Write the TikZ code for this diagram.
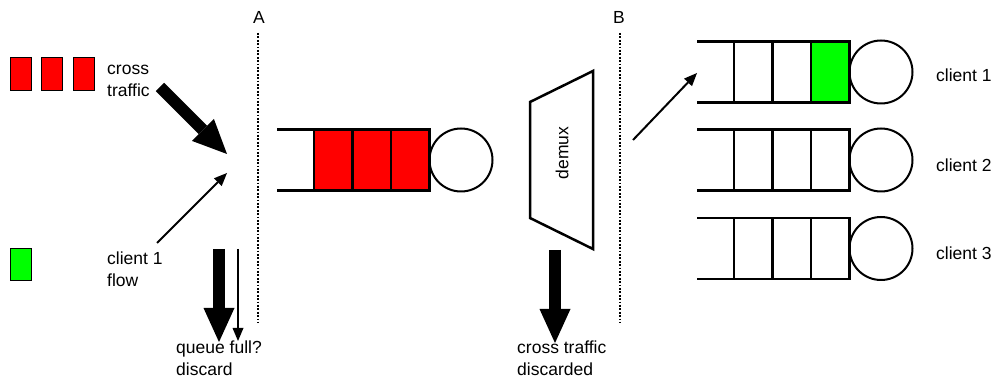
\documentclass[tikz,border=0pt]{standalone}
\usepackage{fontspec}
\setmainfont{Liberation Sans}
\usetikzlibrary{arrows.meta}

\tikzset{
  qline/.style={line width=2.5pt},
  server/.style={line width=2pt},
  packet/.style={draw=black,line width=1pt},
  boundary/.style={line width=1.3pt,dash pattern=on 1.8pt off 1.6pt},
  bigarrow/.style={line width=12pt,-{Triangle[length=34pt,width=31pt,line width=0pt]}},
  smallarrow/.style={line width=2pt,-{Triangle[length=13pt,width=11pt,line width=0pt]}},
  lbl/.style={inner sep=0pt,anchor=base west,align=left,font=\fontsize{17.5}{22}\selectfont},
}

% queue: left x, centre y, fills of the three cells
\newcommand{\netqueue}[5]{%
  \fill[#3] (#1+37,#2-30.5) rectangle (#1+75.5,#2+30.5);
  \fill[#4] (#1+75.5,#2-30.5) rectangle (#1+114,#2+30.5);
  \fill[#5] (#1+114,#2-30.5) rectangle (#1+152.5,#2+30.5);
  \draw[qline] (#1,#2-30.5) -- (#1+152.5,#2-30.5) -- (#1+152.5,#2+30.5) -- (#1,#2+30.5);
  \foreach \d in {37,75.5,114} \draw[qline] (#1+\d,#2-30.5) -- (#1+\d,#2+30.5);
  \draw[server] (#1+184,#2) circle (31.5);
}

\begin{document}
\begin{tikzpicture}[x=1pt,y=-1pt]
\useasboundingbox (0,0) rectangle (994,387);

% incoming packets
\foreach \x in {10,41.5,73} \filldraw[packet,fill=red] (\x,58) rectangle ++(21,33);
\filldraw[packet,fill=green] (10,249) rectangle ++(21,32);
\node[lbl] (cross) at (107,97) {cross\\traffic};
\node[lbl] (flow) at (107,287) {client 1\\flow};

% the two points A and B
\node[lbl,anchor=base] (labA) at (259,24) {A};
\node[lbl,anchor=base] (labB) at (619,24) {B};
\draw[boundary] (258,33) -- (258,323);
\draw[boundary] (620,33) -- (620,323);

% shared bottleneck queue
\netqueue{277}{160}{red}{red}{red}

% arrival at A
\coordinate (ct from) at (160,87);
\coordinate (ct to) at (227,154);
\coordinate (fl from) at (157,243);
\coordinate (fl to) at (227,173);
\draw[bigarrow] (ct from) -- (ct to);
\draw[smallarrow] (fl from) -- (fl to);

% drops at A
\coordinate (drop1 from) at (219,249);
\coordinate (drop1 to) at (219,342);
\coordinate (drop2 from) at (238,249);
\coordinate (drop2 to) at (238,341);
\draw[bigarrow] (drop1 from) -- (drop1 to);
\draw[smallarrow] (drop2 from) -- (drop2 to);
\node[lbl] (full) at (176,376) {queue full?\\discard};

% demultiplexer
\draw[qline] (530,102) -- (593,71) -- (593,249) -- (530,218) -- cycle;
\node[lbl,anchor=center,rotate=90] (demux) at (562,153) {demux};
\coordinate (dm from) at (555,250);
\coordinate (dm to) at (555,343);
\draw[bigarrow] (dm from) -- (dm to);
\node[lbl] (gone) at (517,376) {cross traffic\\discarded};

% per-client queues
\netqueue{697}{72}{white}{white}{green}
\netqueue{697}{160}{white}{white}{white}
\netqueue{697}{248.5}{white}{white}{white}
\coordinate (q1 from) at (633,140);
\coordinate (q1 in) at (697,73);
\draw[smallarrow] (q1 from) -- (q1 in);
\node[lbl] (c1) at (936,82) {client 1};
\node[lbl] (c2) at (936,172) {client 2};
\node[lbl] (c3) at (936,260) {client 3};
\end{tikzpicture}
\end{document}
